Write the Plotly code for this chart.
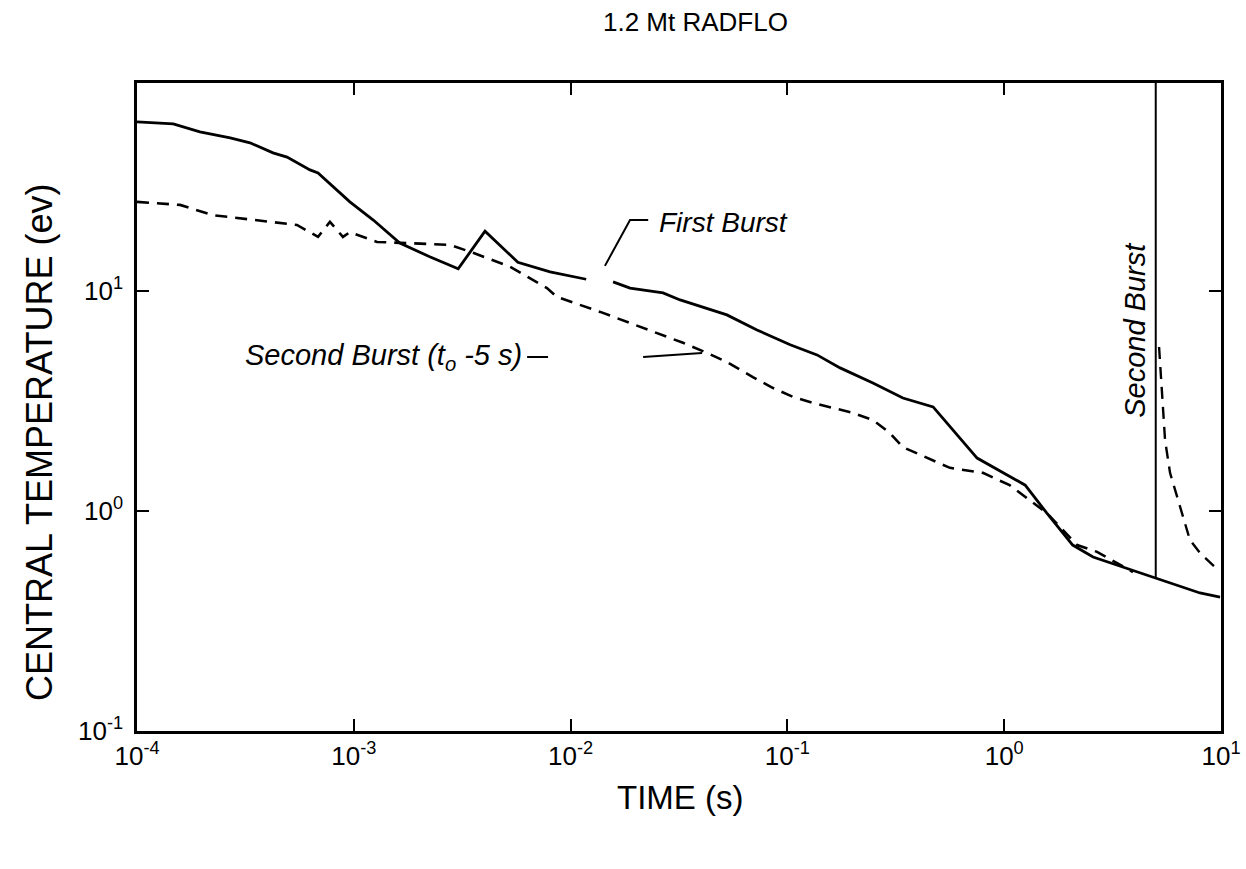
import plotly.graph_objects as go

# ---- data ----
first_time = [1.0e-4, 1.47e-4, 1.95e-4, 2.69e-4, 3.32e-4, 4.24e-4, 4.92e-4, 6.28e-4, 6.84e-4,
              9.59e-4, 1.23e-3, 1.63e-3, 2.24e-3, 3.03e-3, 4.03e-3, 5.71e-3, 8.04e-3, 1.18e-2,
              None,
              1.57e-2, 1.88e-2, 2.67e-2, 3.20e-2, 5.26e-2, 7.24e-2, 0.103, 0.137, 0.175,
              0.248, 0.341, 0.470, 0.750, 1.25, 1.57, 2.07, 2.57, 5.0, 8.0, 9.9]
first_temp = [58.6, 57.4, 52.8, 49.6, 47.1, 42.4, 40.6, 35.5, 34.4,
              25.4, 21.0, 16.5, 14.3, 12.6, 18.7, 13.5, 12.2, 11.3,
              None,
              11.0, 10.3, 9.79, 9.10, 7.78, 6.65, 5.69, 5.12, 4.47,
              3.82, 3.26, 2.97, 1.74, 1.31, 0.98, 0.70, 0.618, 0.497, 0.424, 0.406]

second_time = [1.0e-4, 1.58e-4, 2.24e-4, 3.43e-4, 5.47e-4, 6.84e-4, 7.76e-4, 8.91e-4, 9.59e-4,
               1.28e-3, 1.76e-3, 2.78e-3, 3.55e-3, 5.25e-3, 7.78e-3, 8.65e-3, 1.37e-2, 1.88e-2,
               2.32e-2, 3.30e-2, 4.26e-2, 5.26e-2, 6.93e-2, 8.59e-2, 0.106, 0.131, 0.162,
               0.201, 0.248, 0.297, 0.341, 0.441, 0.562, 0.798, 1.06, 1.57, 2.17, 2.68, 3.93]
second_temp = [25.4, 24.6, 22.1, 21.0, 19.95, 17.6, 20.6, 17.6, 18.5,
               16.7, 16.5, 16.2, 14.9, 12.9, 10.3, 9.39, 8.03, 7.16,
               6.65, 5.81, 5.23, 4.75, 4.06, 3.62, 3.30, 3.10, 2.94,
               2.79, 2.59, 2.26, 1.95, 1.74, 1.57, 1.49, 1.31, 0.98, 0.70, 0.652, 0.528]

rebound_time = [5.18, 5.28, 5.52, 5.82, 6.47, 7.19, 8.0, 9.68]
rebound_temp = [5.56, 4.24, 2.10, 1.49, 1.04, 0.738, 0.644, 0.540]

burst2_time = [5.0, 5.0]
burst2_temp = [90.0, 0.497]

first_leader_t = [1.44e-2, 1.88e-2, 2.28e-2]
first_leader_T = [13.0, 21.0, 21.0]
second_leader_t1 = [6.30e-3, 7.87e-3]
second_leader_T1 = [5.01, 5.01]
second_leader_t2 = [2.16e-2, 4.04e-2]
second_leader_T2 = [5.01, 5.22]

x_tickvals = [1e-4, 1e-3, 1e-2, 1e-1, 1e0, 1e1]
x_ticktext = ["10<sup>-4</sup>", "10<sup>-3</sup>", "10<sup>-2</sup>",
              "10<sup>-1</sup>", "10<sup>0</sup>", "10<sup>1</sup>"]
y_tickvals = [0.1, 1, 10]
y_ticktext = ["10<sup>-1</sup>", "10<sup>0</sup>", "10<sup>1</sup>"]

FONT = "Liberation Sans, Arial, sans-serif"
BLACK = "#000000"

fig = go.Figure()
fig.add_trace(go.Scatter(x=first_time, y=first_temp, mode="lines",
                         line=dict(color=BLACK, width=2.8), showlegend=False))
fig.add_trace(go.Scatter(x=second_time, y=second_temp, mode="lines",
                         line=dict(color=BLACK, width=2.6, dash="12px,8px"), showlegend=False))
fig.add_trace(go.Scatter(x=rebound_time, y=rebound_temp, mode="lines",
                         line=dict(color=BLACK, width=2.4, dash="12px,8px"), showlegend=False))
fig.add_trace(go.Scatter(x=burst2_time, y=burst2_temp, mode="lines",
                         line=dict(color=BLACK, width=2), showlegend=False))
for lt, lT in [(first_leader_t, first_leader_T), (second_leader_t1, second_leader_T1),
               (second_leader_t2, second_leader_T2)]:
    fig.add_trace(go.Scatter(x=lt, y=lT, mode="lines",
                             line=dict(color=BLACK, width=2), showlegend=False))

axis_common = dict(showline=True, linecolor=BLACK, linewidth=2.5, mirror="ticks",
                   ticks="inside", ticklen=12, tickwidth=2, tickcolor=BLACK,
                   showgrid=False, zeroline=False, automargin=False,
                   tickfont=dict(family=FONT, size=26, color=BLACK))

fig.update_xaxes(type="log", range=[-4, 1], tickvals=x_tickvals, ticktext=x_ticktext,
                 ticklabelstandoff=0, **axis_common)
fig.update_yaxes(type="log", range=[-1, 1.945], tickvals=y_tickvals, ticktext=y_ticktext,
                 ticklabelstandoff=6, **axis_common)

annotations = [
    dict(text="1.2 Mt RADFLO", xref="paper", yref="paper", x=0.515, y=1.094,
         xanchor="center", yanchor="middle",
         showarrow=False, font=dict(family=FONT, size=26, color=BLACK)),
    dict(text="TIME (s)", xref="paper", yref="paper", x=0.501, y=-0.102,
         xanchor="center", yanchor="middle",
         showarrow=False, font=dict(family=FONT, size=33, color=BLACK)),
    dict(text="CENTRAL TEMPERATURE (ev)", xref="paper", yref="paper", x=-0.0895, y=0.446,
         xanchor="center", yanchor="middle",
         textangle=-90, showarrow=False, font=dict(family=FONT, size=36, color=BLACK)),
    dict(text="<i>First Burst</i>", xref="x", yref="y", x=-1.601, y=1.309,
         xanchor="left", yanchor="middle",
         showarrow=False, font=dict(family=FONT, size=28, color=BLACK)),
    dict(text="<i>Second Burst (t<sub>o</sub> -5 s)</i>", xref="x", yref="y", x=-2.215, y=0.70,
         xanchor="right", yanchor="middle",
         showarrow=False, font=dict(family=FONT, size=29, color=BLACK)),
    dict(text="<i>Second Burst</i>", xref="x", yref="y", x=0.603, y=0.823,
         xanchor="center", yanchor="middle",
         textangle=-90, showarrow=False, font=dict(family=FONT, size=29, color=BLACK)),
]

fig.update_layout(width=1246, height=869, autosize=False,
                  margin=dict(l=137, r=25, t=83, b=138, autoexpand=False),
                  paper_bgcolor="white", plot_bgcolor="white",
                  annotations=annotations, showlegend=False)

# remove the page's default body margin so the figure fills the window exactly
fig.write_html("out.html", config={"displayModeBar": False},
               post_script="document.body.style.margin='0';document.body.style.overflow='hidden';")
